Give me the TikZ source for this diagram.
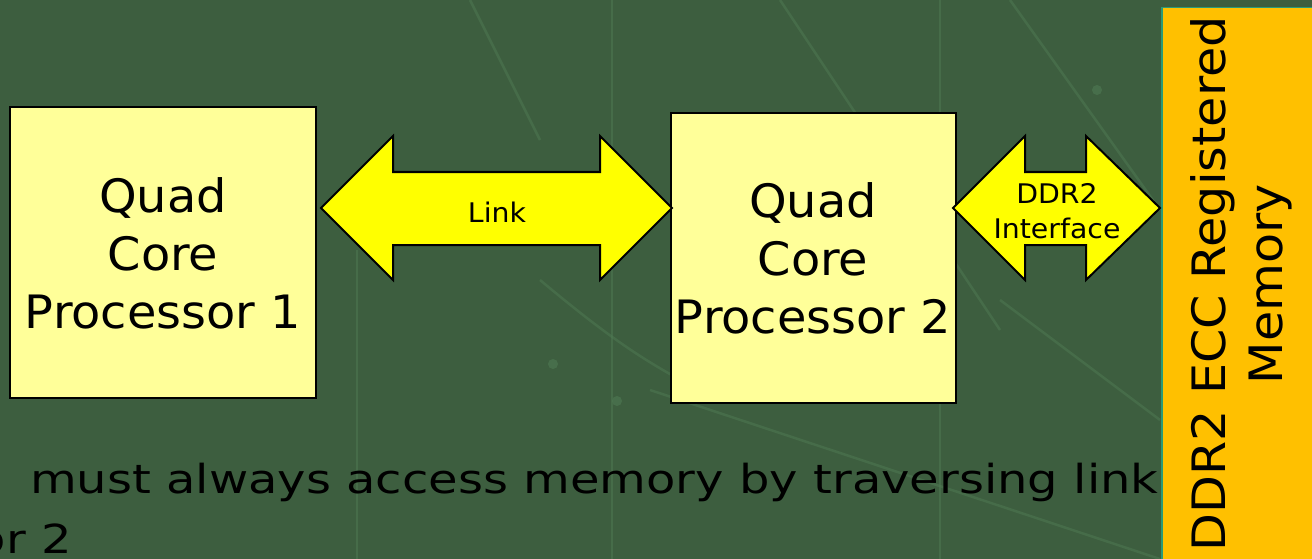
\documentclass[tikz,border=0pt]{standalone}
\usepackage{fontspec}
\setmainfont{DejaVu Sans}
\newfontfamily\boxfont{DejaVu Sans}[FakeStretch=1.04]
\newfontfamily\memfont{DejaVu Sans}[FakeStretch=1.07]
\newfontfamily\busfont{DejaVu Sans}[FakeStretch=1.05]
\newfontfamily\capfont{DejaVu Sans}[FakeStretch=1.2]
\definecolor{boardgreen}{HTML}{3D5E3F}
\definecolor{tracegreen}{HTML}{4F7A53}
\definecolor{boxfill}{HTML}{FFFF99}
\definecolor{busfill}{HTML}{FFFF00}
\definecolor{memfill}{HTML}{FFC000}
\definecolor{memedge}{HTML}{2A9A78}
\tikzset{
  cpubox/.style={draw=black, line width=2pt, fill=boxfill},
  bus/.style={draw=black, line width=2pt, fill=busfill, line join=miter},
  trace/.style={draw=tracegreen, line width=2.5pt, opacity=0.5},
  bigtext/.style={font=\boxfont\fontsize{46}{58}\selectfont, align=center, inner sep=0pt},
  memtext/.style={font=\memfont\fontsize{46}{57}\selectfont, align=center, inner sep=0pt},
  bustext/.style={font=\busfont\fontsize{27}{35}\selectfont, align=center, inner sep=0pt},
  captext/.style={font=\capfont\fontsize{40}{48}\selectfont, inner sep=0pt},
}
\begin{document}
\begin{tikzpicture}[x=1pt, y=-1pt]
% board background
\fill[boardgreen] (0,0) rectangle (1312,559);
\useasboundingbox (0,0) rectangle (1312,559);
\clip (0,0) rectangle (1312,559);
% faint circuit traces
\draw[trace] (612,0) -- (612,559);
\draw[trace] (357,250) -- (357,559);
\draw[trace] (940,0) -- (940,559);
\draw[trace] (780,0) -- (1000,330);
\draw[trace] (1010,0) -- (1160,210);
\draw[trace] (470,0) -- (540,140);
\draw[trace] (540,280) .. controls (600,330) and (640,360) .. (700,390);
\draw[trace] (650,390) -- (1160,559);
\draw[trace] (1000,300) -- (1160,420);
\fill[tracegreen, opacity=0.6] (553,364) circle (5);
\fill[tracegreen, opacity=0.6] (1097,90) circle (5);
\fill[tracegreen, opacity=0.6] (617,401) circle (5);
% memory module
\node[draw=memedge, line width=1.5pt, fill=memfill, inner sep=0pt,
      minimum width=156pt, minimum height=556pt, anchor=north west]
      (mem) at (1161,7) {};
\node[memtext, rotate=90] (memlabel) at (1241,284) {DDR2 ECC Registered\\Memory};
% processors
\draw[cpubox] (10,107) rectangle (316,398);
\coordinate (p1c) at (163,253);
\node[bigtext] (p1) at (p1c) {Quad\\Core\\Processor 1};
\draw[cpubox] (671,113) rectangle (956,403);
\coordinate (p2c) at (813,258);
\node[bigtext] (p2) at (p2c) {Quad\\Core\\Processor 2};
% processor-to-processor link
\draw[bus] (321,208) -- (393,136) -- (393,172) -- (600,172) -- (600,136)
  -- (672,208) -- (600,280) -- (600,245) -- (393,245) -- (393,280) -- cycle;
\node[bustext] (link) at (497,212) {Link};
% memory interface
\draw[bus] (953,208) -- (1025,136) -- (1025,172) -- (1086,172) -- (1086,136)
  -- (1160,208) -- (1086,280) -- (1086,245) -- (1025,245) -- (1025,280) -- cycle;
\node[bustext] (ddr) at (1057,211) {DDR2\\Interface};
% caption lines
\node[captext, anchor=base west] (note) at (30,493)
  {must always access memory by traversing link};
\node[captext, anchor=base east] (note2) at (72,553) {or 2};
\end{tikzpicture}
\end{document}
